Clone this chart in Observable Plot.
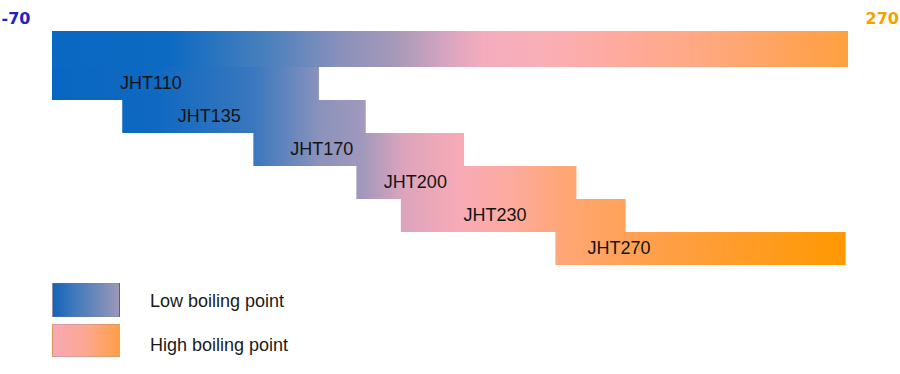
<!DOCTYPE html>
<html>
<head>
<meta charset="utf-8">
<script src="https://cdn.jsdelivr.net/npm/d3@7"></script>
<script src="https://cdn.jsdelivr.net/npm/@observablehq/plot@0.6"></script>
<style>
  html, body { margin: 0; padding: 0; background: #fff; }
  #chart { width: 900px; }
  .legend { margin-top: 11px; font-family: "Liberation Sans", Arial, sans-serif; font-size: 18px; color: #1a1a1a; }
  .legend .row { display: flex; align-items: center; margin-left: 52px; }
  .legend .row + .row { margin-top: 7px; }
  .legend .sw { width: 68px; height: 34px; box-sizing: border-box; border: 1px solid rgba(120,120,160,0.25); }
  .legend .lab { margin-left: 30px; }
</style>
</head>
<body>
<div id="chart"></div>
<script>
// ---- data ----
const products = ["JHT110", "JHT135", "JHT170", "JHT200", "JHT230", "JHT270"];
const minTemp  = [-70, -40, 16, 60, 79, 145];
const maxTemp  = [44, 64, 106, 154, 175, 269];
const labelAt  = [-28, -3, 45, 85, 119, 172];
const overallRange = [-70, 270];
const rangeLabels = ["-70", "270"];
const legendLabels = ["Low boiling point", "High boiling point"];

// ---- styles ----
const barStops = [[-70, "#0866c2"], [-25, "#0f69c1"], [16, "#3a77be"], [44, "#8a92bc"], [62, "#a098bc"],
  [80, "#dca4bc"], [104, "#f8aab6"], [125, "#fdaaa0"], [150, "#ffa674"], [185, "#ffa04c"], [270, "#ff9800"]];
const topStops = [[-70, "#0a68c4"], [-20, "#0c6ac2"], [22, "#4a80bc"], [52, "#8890bc"], [78, "#a89ab8"],
  [97, "#d4a4c0"], [114, "#f4acbe"], [138, "#f9afb8"], [170, "#ffaaa0"], [210, "#ffa880"], [270, "#ffa040"]];
const legendGradients = ["linear-gradient(90deg, #1464b8, #3c78bc 30%, #9a98b8)",
                         "linear-gradient(90deg, #f8a8b4, #fca890 50%, #ffa048)"];

const bars = products.map((p, i) => ({name: p, lo: minTemp[i], hi: maxTemp[i], at: labelAt[i]}));
const topRow = [{name: "range", lo: overallRange[0], hi: overallRange[1]}];

function gradientDefs(id, stops) {
  return (index, scales) => {
    const [d0, d1] = scales.scales.x.domain;
    const defs = d3.create("svg:defs");
    const g = defs.append("linearGradient").attr("id", id)
      .attr("gradientUnits", "userSpaceOnUse")
      .attr("x1", scales.x(d0)).attr("x2", scales.x(d1)).attr("y1", 0).attr("y2", 0);
    for (const [t, c] of stops) {
      g.append("stop").attr("offset", (t - d0) / (d1 - d0)).attr("stop-color", c);
    }
    return defs.node();
  };
}

const chart = Plot.plot({
  width: 900,
  height: 272,
  marginTop: 33,
  marginBottom: 6,
  marginLeft: 52,
  marginRight: 52,
  x: {domain: overallRange, axis: null},
  y: {domain: ["range", ...products], axis: null, padding: 0},
  marks: [
    gradientDefs("barGrad", barStops),
    gradientDefs("topGrad", topStops),
    Plot.barX(topRow, {x1: "lo", x2: "hi", y: "name", fill: "url(#topGrad)", insetTop: -3}),
    Plot.barX(bars, {x1: "lo", x2: "hi", y: "name", fill: "url(#barGrad)"}),
    Plot.text(bars, {x: "at", y: "name", text: "name", fontSize: 18, fill: "#141414",
      fontFamily: "Liberation Sans, Arial, sans-serif", dy: -1}),
    Plot.text([rangeLabels[0]], {x: [overallRange[0]], text: (d) => d, frameAnchor: "top", dy: -21,
      dx: -22, textAnchor: "end", fontSize: 16, fontWeight: "bold",
      fontFamily: "DejaVu Sans, sans-serif", fill: "#2222c4"}),
    Plot.text([rangeLabels[1]], {x: [overallRange[1]], text: (d) => d, frameAnchor: "top", dy: -21,
      dx: 17, textAnchor: "start", fontSize: 16, fontWeight: "bold",
      fontFamily: "DejaVu Sans, sans-serif", fill: "#f5a000"})
  ]
});
document.getElementById("chart").append(chart);

const legend = d3.select("body").append("div").attr("class", "legend");
legendLabels.forEach((lab, i) => {
  const row = legend.append("div").attr("class", "row");
  row.append("div").attr("class", "sw").style("background", legendGradients[i])
    .style("height", i === 0 ? "34px" : "33px");
  row.append("div").attr("class", "lab").text(lab)
    .style("position", "relative").style("top", i === 0 ? "1px" : "5px");
});
</script>
</body>
</html>
